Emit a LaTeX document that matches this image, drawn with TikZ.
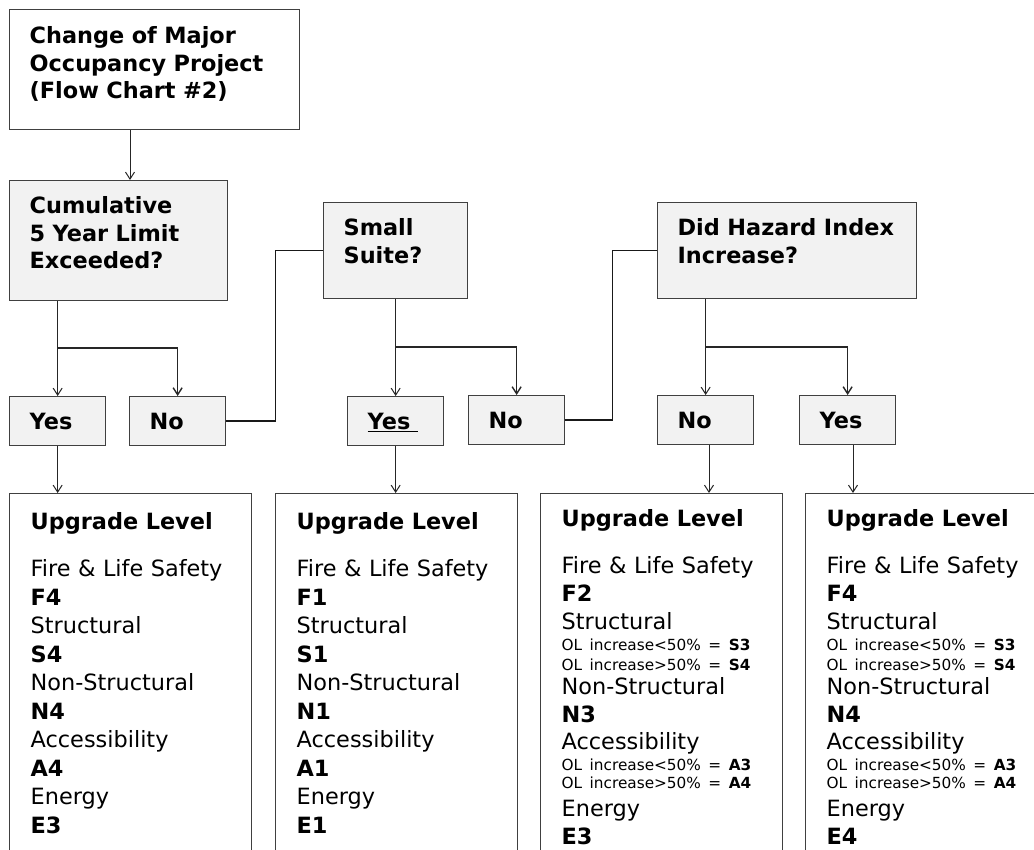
\documentclass[tikz,border=0pt]{standalone}
\usepackage{fontspec}
\setmainfont{DejaVu Sans}
\usetikzlibrary{arrows.meta,positioning}
\definecolor{qgray}{HTML}{F2F2F2}
\definecolor{edgegray}{HTML}{404040}
\begin{document}
\begin{tikzpicture}[x=1pt,y=-1pt]
\tikzset{box/.style = {shape=rectangle, draw=edgegray, line width=1.3pt, anchor=north west, inner xsep=20pt, inner ysep=0pt, align=left}}
\tikzset{question/.style = {box, fill=qgray, font=\fontsize{22.4}{27.5}\selectfont\bfseries, text height=33pt}}
\tikzset{answer/.style = {box, fill=qgray, font=\fontsize{22.4}{27}\selectfont\bfseries, text width=56pt, text height=16.3pt, text depth=0pt, minimum height=49pt}}
\tikzset{upgrade/.style = {box, inner xsep=21pt, text width=200pt, font=\fontsize{22.4}{28.5}\selectfont, text height=36pt, text depth=365pt}}
\tikzset{upgradeol/.style = {upgrade, font=\fontsize{22.4}{28}\selectfont, text height=33pt}}
\tikzset{arrow/.style = {-{Straight Barb[length=7pt,width=9pt]}, line width=1pt, draw=black!85}}
\tikzset{branch/.style = {arrow, line width=1.4pt}}
\tikzset{link/.style = {line width=1.6pt, draw=black!90}}
\def \olfont {\fontsize{15.3}{20}\selectfont}
\useasboundingbox (0,0) rectangle (1034,850);
% questions
\node[question, fill=white, text width=250pt, text height=34pt, text depth=86pt] (start) at (9,9) {Change~of~Major\\Occupancy~Project\\(Flow~Chart~\#2)};
\node[question, text width=178pt, text depth=87pt] (cum) at (9,180) {Cumulative\\5~Year~Limit\\Exceeded?};
\node[question, text width=104pt, text depth=63pt] (small) at (323,202) {Small\\Suite?};
\node[question, text width=219pt, text depth=63pt] (hazard) at (657,202) {Did~Hazard~Index\\Increase?};
% answers
\node[answer] (yes1) at (9,396) {Yes};
\node[answer] (no1) at (129,396) {No};
\node[answer] (yes2) at (347,396) {\underline{Yes\ }};
\node[answer] (no2) at (468,395) {No};
\node[answer] (no3) at (657,395) {No};
\node[answer] (yes3) at (799,395) {Yes};
% upgrade levels
\node[upgrade] (up1) at (9,493) {\textbf{Upgrade~Level}\\[18.5pt]
Fire~\&~Life~Safety\\ \textbf{F4}\\ Structural\\ \textbf{S4}\\ Non-Structural\\ \textbf{N4}\\ Accessibility\\ \textbf{A4}\\ Energy\\ \textbf{E3}};
\node[upgrade] (up2) at (275,493) {\textbf{Upgrade~Level}\\[18.5pt]
Fire~\&~Life~Safety\\ \textbf{F1}\\ Structural\\ \textbf{S1}\\ Non-Structural\\ \textbf{N1}\\ Accessibility\\ \textbf{A1}\\ Energy\\ \textbf{E1}};
\node[upgradeol] (up3) at (540,493) {\textbf{Upgrade~Level}\\[19pt]
Fire~\&~Life~Safety\\ \textbf{F2}\\ Structural\\[-7pt]
{\olfont OL~increase<50\%~=~\textbf{S3}}\\[-8pt]
{\olfont OL~increase>50\%~=~\textbf{S4}}\\[-4pt]
Non-Structural\\ \textbf{N3}\\[-1pt] Accessibility\\[-7pt]
{\olfont OL~increase<50\%~=~\textbf{A3}}\\[-10pt]
{\olfont OL~increase>50\%~=~\textbf{A4}}\\[0pt]
Energy\\ \textbf{E3}};
\node[upgradeol] (up4) at (805,493) {\textbf{Upgrade~Level}\\[19pt]
Fire~\&~Life~Safety\\ \textbf{F4}\\ Structural\\[-7pt]
{\olfont OL~increase<50\%~=~\textbf{S3}}\\[-8pt]
{\olfont OL~increase>50\%~=~\textbf{S4}}\\[-4pt]
Non-Structural\\ \textbf{N4}\\[-1pt] Accessibility\\[-7pt]
{\olfont OL~increase<50\%~=~\textbf{A3}}\\[-10pt]
{\olfont OL~increase>50\%~=~\textbf{A4}}\\[0pt]
Energy\\ \textbf{E4}};
% connectors
\coordinate (s0) at (130,0);
\coordinate (b1) at (0,348);
\coordinate (b2) at (0,347);
\coordinate (c3) at (709,0);
\coordinate (c4) at (853,0);
\draw[arrow] (s0 |- start.south) -- (s0 |- cum.north);
\draw[arrow] (yes1.north |- cum.south) -- (yes1.north);
\draw[branch] (yes1.north |- b1) -| (no1.north);
\draw[link] (no1.east) -- ++(49,0) |- (small.west);
\draw[arrow] (small.south) -- (yes2.north);
\draw[branch] (small.south |- b2) -| (no2.north);
\draw[link] (no2.east) -- ++(47,0) |- (hazard.west);
\draw[arrow] (no3.north |- hazard.south) -- (no3.north);
\draw[branch] (no3.north |- b2) -| (yes3.north);
\draw[arrow] (yes1.south) -- (yes1.south |- up1.north);
\draw[arrow] (yes2.south) -- (yes2.south |- up2.north);
\draw[arrow] (c3 |- no3.south) -- (c3 |- up3.north);
\draw[arrow] (c4 |- yes3.south) -- (c4 |- up4.north);
\end{tikzpicture}
\end{document}
